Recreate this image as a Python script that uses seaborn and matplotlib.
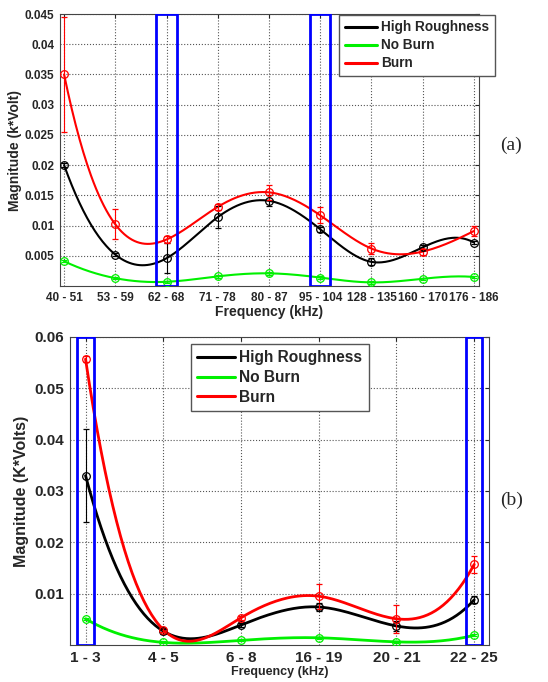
import numpy as np
import pandas as pd
import seaborn as sns
import matplotlib.pyplot as plt

# panel (a)
freq_a = ['40 - 51', '53 - 59', '62 - 68', '71 - 78', '80 - 87', '95 - 104',
          '128 - 135', '160 - 170', '176 - 186']
rough_a = [0.0200, 0.0052, 0.0046, 0.0114, 0.0141, 0.0094, 0.0040, 0.0064, 0.0072]
noburn_a = [0.0041, 0.0013, 0.0007, 0.0016, 0.0021, 0.0014, 0.0006, 0.0012, 0.0015]
burn_a = [0.0350, 0.0102, 0.0077, 0.0131, 0.0155, 0.0117, 0.0062, 0.0057, 0.0091]
rough_err_a = [0.0003, 0.0003, 0.0025, 0.0018, 0.0009, 0.0004, 0.0006, 0.0004, 0.0003]
noburn_err_a = [0.0002, 0.0002, 0.0002, 0.0002, 0.0002, 0.0002, 0.0002, 0.0002, 0.0002]
burn_err_a = [0.0095, 0.0025, 0.0005, 0.0005, 0.0012, 0.0013, 0.0009, 0.0005, 0.0009]
yticks_a = [0.005, 0.01, 0.015, 0.02, 0.025, 0.03, 0.035, 0.04, 0.045]
boxes_a = [2, 5]

# panel (b)
freq_b = ['1 - 3', '4 - 5', '6 - 8', '16 - 19', '20 - 21', '22 - 25']
rough_b = [0.0330, 0.0027, 0.0039, 0.0074, 0.0037, 0.0088]
noburn_b = [0.0051, 0.0005, 0.0009, 0.0014, 0.0006, 0.0019]
burn_b = [0.0557, 0.0030, 0.0053, 0.0095, 0.0051, 0.0157]
rough_err_b = [0.0090, 0.0005, 0.0004, 0.0008, 0.0010, 0.0007]
noburn_err_b = [0.0002, 0.0002, 0.0002, 0.0002, 0.0002, 0.0002]
burn_err_b = [0.0005, 0.0004, 0.0004, 0.0024, 0.0027, 0.0016]
yticks_b = [0.01, 0.02, 0.03, 0.04, 0.05, 0.06]
boxes_b = [0, 5]

series = ['High Roughness', 'No Burn', 'Burn']
colors = {'High Roughness': '#000000', 'No Burn': '#00f000', 'Burn': '#ff0000'}


def spline(y, n=40):
    # not-a-knot cubic spline on unit-spaced points (like matlab spline)
    y = np.asarray(y, float)
    m = len(y)
    A = np.zeros((m, m))
    b = np.zeros(m)
    A[0, :3] = [1, -2, 1]
    A[-1, -3:] = [1, -2, 1]
    for i in range(1, m - 1):
        A[i, i - 1:i + 2] = [1, 4, 1]
        b[i] = 6 * (y[i + 1] - 2 * y[i] + y[i - 1])
    M = np.linalg.solve(A, b)
    xs, ys = [], []
    for i in range(m - 1):
        t = np.linspace(0, 1, n, endpoint=False)
        s = (M[i] * (1 - t) ** 3 / 6 + M[i + 1] * t ** 3 / 6
             + (y[i] - M[i] / 6) * (1 - t) + (y[i + 1] - M[i + 1] / 6) * t)
        xs.extend(i + t)
        ys.extend(s)
    xs.append(m - 1)
    ys.append(y[-1])
    return np.array(xs), np.array(ys)


def panel(ax, labels, vals, errs, yticks, ymax, boxes, bw, lw, tfs, lfs, xlfs, legfs, legpos):
    rows = []
    for name, v in zip(series, vals):
        xs, ys = spline(v)
        rows.append(pd.DataFrame({'x': xs, 'y': ys, 'series': name}))
    df = pd.concat(rows)
    sns.lineplot(data=df, x='x', y='y', hue='series', palette=colors, lw=lw,
                 ax=ax, legend=False, sort=False, estimator=None)
    idx = np.arange(len(labels))
    for name, v, e in zip(series, vals, errs):
        ax.errorbar(idx, v, yerr=e, fmt='o', ms=5.5, mfc='none', mec=colors[name],
                    mew=0.9, ecolor=colors[name], elinewidth=0.8, capsize=2, zorder=4)
    for k in boxes:
        ax.axvspan(k - bw, k + bw, fill=False, edgecolor='#0000ff', lw=2, zorder=5)
    ax.set_ylim(0, ymax)
    ax.set_yticks(yticks)
    ax.set_yticklabels([f'{v:g}' for v in yticks], fontsize=tfs, fontweight='bold')
    ax.set_xticks(idx)
    ax.set_xticklabels(labels, fontsize=tfs, fontweight='bold')
    ax.grid(True, color='#555555', ls=':', lw=0.8)
    ax.tick_params(direction='in', top=True, right=True, length=3, pad=4)
    for s in ax.spines.values():
        s.set_color('#444444')
        s.set_linewidth(0.8)
    ax.set_xlabel('Frequency (kHz)', fontsize=xlfs, fontweight='bold', labelpad=1)
    handles = [plt.Line2D([], [], color=colors[n], lw=2.2) for n in series]
    leg = ax.legend(handles, series, loc='upper left', bbox_to_anchor=legpos,
                    borderaxespad=0, fancybox=False, framealpha=1, edgecolor='#555555',
                    prop={'size': legfs, 'weight': 'bold'}, handlelength=2.4,
                    handletextpad=0.3, borderpad=0.4, labelspacing=0.3)
    leg.set_zorder(6)


sns.set_style('whitegrid')
plt.rcParams['font.family'] = ['Liberation Sans', 'DejaVu Sans']

fig = plt.figure(figsize=(5.48, 6.82), dpi=100)
ax1 = fig.add_axes([0.1095, 0.5806, 0.7646, 0.3988])
ax2 = fig.add_axes([0.1277, 0.0543, 0.7646, 0.4516])

panel(ax1, freq_a, [rough_a, noburn_a, burn_a], [rough_err_a, noburn_err_a, burn_err_a],
      yticks_a, 0.045, boxes_a, 0.2, 1.5, 8.5, 9, 10, 9.8, (0.666, 0.997))
ax1.set_xlim(-0.08, 8.1)
ax1.set_ylabel('Magnitude (k*Volt)', fontsize=10, fontweight='bold', labelpad=2)

panel(ax2, freq_b, [rough_b, noburn_b, burn_b], [rough_err_b, noburn_err_b, burn_err_b],
      yticks_b, 0.06, boxes_b, 0.105, 2.0, 11, 10, 9, 11.2, (0.289, 0.977))
ax2.set_xlim(-0.2, 5.19)
ax2.set_ylabel('Magnitude (K*Volts)', fontsize=11.5, fontweight='bold', labelpad=4)

fig.text(0.912, 0.787, '(a)', fontsize=14, family='Liberation Serif', va='center')
fig.text(0.912, 0.267, '(b)', fontsize=14, family='Liberation Serif', va='center')

fig.savefig('out.png', dpi=100)
